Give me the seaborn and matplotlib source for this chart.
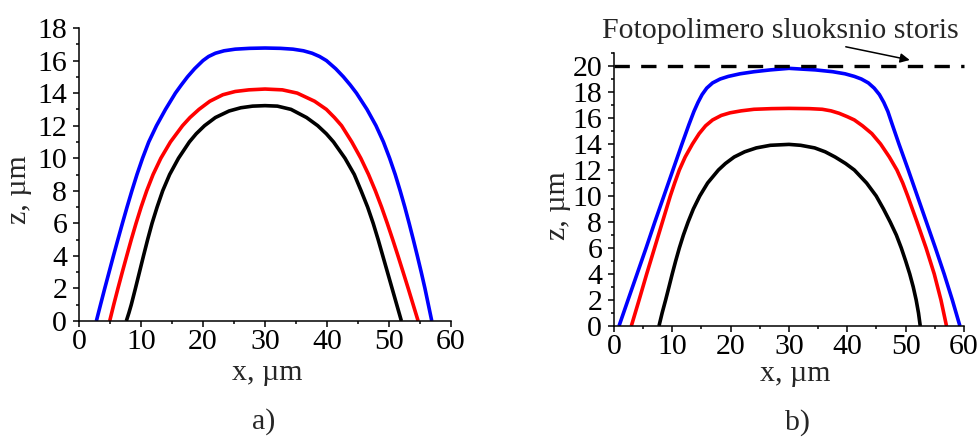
import matplotlib
matplotlib.use("Agg")
import matplotlib.pyplot as plt
from matplotlib.ticker import MultipleLocator
import pandas as pd
import seaborn as sns

# ---- profile data: panel a) ----
a_blue_x = [2.8, 3.47, 4.15, 4.85, 5.55, 6.27, 7.0, 7.75, 8.53, 9.35, 10.25, 11.25, 12.5,
            13.95, 15.55, 16.5, 17.5, 18.65, 20.0, 20.9, 22.0, 23.4, 25.2, 27.5, 30.0,
            32.5, 34.5, 36.2, 37.6, 38.8, 39.9, 41.4, 42.65, 43.75, 44.75, 46.45, 47.9,
            49.1, 50.1, 51.0, 51.8, 52.55, 53.25, 53.92, 54.57, 55.2, 55.8, 56.35, 56.9]
a_blue_z = [0, 1, 2, 3, 4, 5, 6, 7, 8, 9, 10, 11, 12,
            13, 14, 14.5, 15, 15.5, 16, 16.25, 16.45, 16.6, 16.7, 16.75, 16.77,
            16.75, 16.7, 16.6, 16.45, 16.25, 16.0, 15.5, 15.0, 14.5, 14.0, 13, 12,
            11, 10, 9, 8, 7, 6, 5, 4, 3, 2, 1, 0]

a_red_x = [4.95, 5.6, 6.28, 6.98, 7.7, 8.43, 9.2, 10.02, 10.92, 11.95, 13.2, 14.75, 16.7,
           17.9, 19.35, 21.1, 23.2, 25.2, 27.4, 30.0,
           32.8, 35.2, 38.0, 39.9, 41.2, 42.35, 44.0, 45.45, 46.7, 47.8, 48.8, 49.72,
           50.6, 51.45, 52.28, 53.1, 53.9, 54.7]
a_red_z = [0, 1, 2, 3, 4, 5, 6, 7, 8, 9, 10, 11, 12,
           12.5, 13, 13.5, 13.9, 14.1, 14.2, 14.25,
           14.2, 14.0, 13.5, 13.0, 12.5, 12, 11, 10, 9, 8, 7, 6,
           5, 4, 3, 2, 1, 0]

a_black_x = [7.63, 8.05, 8.43, 9.1, 9.75, 10.4, 11.07, 11.78, 12.6, 13.5, 14.62, 16.05,
             17.8, 18.9, 20.25, 22.0, 24.2, 26.1, 28.0, 30.0,
             32.0, 34.2, 36.7, 38.5, 39.9, 41.05, 42.9, 44.4, 45.5, 46.55, 47.45, 48.25,
             49.0, 49.75, 50.5, 51.25, 52.0]
a_black_z = [0, 0.5, 1, 2, 3, 4, 5, 6, 7, 8, 9, 10,
             11, 11.5, 12, 12.5, 12.9, 13.1, 13.2, 13.23,
             13.2, 13.0, 12.5, 12.0, 11.5, 11, 10, 9, 8, 7, 6, 5,
             4, 3, 2, 1, 0]

# ---- profile data: panel b) ----
b_blue_x = [0.86, 2.4, 3.95, 5.5, 7.0, 8.55, 10.1, 11.65, 12.85, 13.7, 14.4, 15.1, 15.9,
            16.9, 18.2, 19.6, 21.6, 24.0, 26.8, 30.0,
            34.5, 37.5, 39.6, 41.2, 42.4, 43.6, 44.6, 45.5, 46.25, 46.95, 47.7, 48.85,
            50.45, 52.0, 53.55, 55.1, 56.6, 58.0, 59.3]
b_blue_z = [0, 2, 4, 6, 8, 10, 12, 14, 15.5, 16.5, 17.2, 17.8, 18.3,
            18.7, 19.0, 19.2, 19.4, 19.56, 19.7, 19.82,
            19.7, 19.56, 19.4, 19.2, 19.0, 18.7, 18.3, 17.8, 17.2, 16.5, 15.5, 14,
            12, 10, 8, 6, 4, 2, 0]

b_red_x = [2.97, 4.3, 5.6, 6.95, 8.3, 9.65, 10.4, 11.2, 12.2, 13.45, 14.6, 15.7, 16.9,
           18.4, 19.9, 21.8, 24.0, 27.0, 30.0,
           33.5, 35.7, 37.2, 38.6, 40.0, 41.2, 42.6, 44.2, 45.7, 47.2, 48.5, 49.5,
           50.35, 51.95, 53.5, 54.9, 56.05, 57.0]
b_red_z = [0, 2, 4, 6, 8, 10, 11, 12, 13, 14, 14.8, 15.4, 15.85,
           16.2, 16.4, 16.55, 16.67, 16.72, 16.74,
           16.72, 16.67, 16.55, 16.36, 16.1, 15.85, 15.4, 14.8, 14.0, 13.0, 12.0, 11.0,
           10, 8, 6, 4, 2, 0]

b_black_x = [7.71, 8.25, 8.85, 9.42, 9.98, 10.57, 11.2, 11.9, 12.7, 13.6, 14.7, 16.05,
             17.9, 19.1, 20.6, 22.4, 24.4, 26.8, 30.0,
             32.0, 34.4, 36.2, 37.9, 39.7, 41.2, 43.3, 44.95, 46.2, 47.35, 48.4, 49.25,
             50.0, 50.7, 51.3, 51.8, 52.2, 52.5]
b_black_z = [0, 1, 2, 3, 4, 5, 6, 7, 8, 9, 10, 11,
             12, 12.5, 13.0, 13.4, 13.7, 13.9, 13.97,
             13.9, 13.7, 13.4, 13.0, 12.5, 12.0, 11, 10, 9, 8, 7, 6,
             5, 4, 3, 2, 1, 0]

layer_thickness = 20.0
layer_label = "Fotopolimero sluoksnio storis"

x_label = "x, µm"
z_label = "z, µm"
panel_labels = ["a)", "b)"]

sns.set_theme(style="ticks")
plt.rcParams["font.family"] = ["Liberation Serif", "DejaVu Serif"]

FS = 21.5
LW = 2.6
colors = {"blue": "#0000ff", "red": "#ff0000", "black": "#000000"}

W, H = 978, 437


def frame(xs, zs, name):
    return pd.DataFrame({"x": xs, "z": zs, "curve": name})


fig = plt.figure(figsize=(W / 100, H / 100), dpi=100)
ax_a = fig.add_axes([79 / W, 1 - 321 / H, 372 / W, 293 / H])
ax_b = fig.add_axes([614 / W, 1 - 326 / H, 350 / W, 273 / H])

panels = [
    (ax_a, [frame(a_blue_x, a_blue_z, "blue"), frame(a_red_x, a_red_z, "red"),
            frame(a_black_x, a_black_z, "black")], 18, (0.505, -0.2014), (-0.161, 0.447)),
    (ax_b, [frame(b_blue_x, b_blue_z, "blue"), frame(b_red_x, b_red_z, "red"),
            frame(b_black_x, b_black_z, "black")], 21, (0.517, -0.2015), (-0.16, 0.44)),
]

for ax, frames, ztop, xl_pos, yl_pos in panels:
    for df in frames:
        sns.lineplot(data=df, x="x", y="z", sort=False, estimator=None,
                     color=colors[df["curve"].iloc[0]], lw=LW, ax=ax,
                     solid_joinstyle="round", solid_capstyle="butt")
    ax.set_xlim(0, 60)
    ax.set_ylim(0, ztop)
    ax.xaxis.set_major_locator(MultipleLocator(10))
    ax.xaxis.set_minor_locator(MultipleLocator(5))
    ax.yaxis.set_major_locator(MultipleLocator(2))
    ax.yaxis.set_minor_locator(MultipleLocator(1))
    ax.tick_params(which="major", direction="out", length=4, width=1.1,
                   labelsize=FS, colors="black")
    ax.tick_params(which="minor", direction="out", length=2.5, width=1.1, colors="black")
    ax.tick_params(axis="y", which="major", pad=4.5)
    ax.tick_params(axis="x", which="major", pad=1.5)
    for side in ("top", "right"):
        ax.spines[side].set_visible(False)
    for side in ("left", "bottom"):
        ax.spines[side].set_linewidth(1.1)
        ax.spines[side].set_color("black")
    ax.set_xlabel(x_label, fontsize=FS)
    ax.xaxis.set_label_coords(*xl_pos)
    ax.xaxis.label.set_va("baseline")
    ax.set_ylabel(z_label, fontsize=FS)
    ax.yaxis.set_label_coords(*yl_pos)
    ax.yaxis.label.set_va("center")

# Photopolymer layer thickness on panel b)
ax_b.plot([0, 60], [layer_thickness, layer_thickness], color="black", lw=2.4,
          linestyle=(0, (4.6, 3.4)), clip_on=False)
ax_b.annotate(layer_label, xy=(50.7, 20.46), xytext=(780 / W, 1 - 37.5 / H),
              textcoords="figure fraction", ha="center", va="baseline",
              fontsize=FS, annotation_clip=False,
              arrowprops=dict(arrowstyle="-|>", color="black", lw=1.1,
                              mutation_scale=14, shrinkA=0, shrinkB=0,
                              relpos=(0.64, 0.0)))

fig.text(264 / W, 1 - 429 / H, panel_labels[0], ha="center", va="baseline", fontsize=FS)
fig.text(798 / W, 1 - 430 / H, panel_labels[1], ha="center", va="baseline", fontsize=FS)

fig.savefig("out.png", dpi=100, facecolor="white")
